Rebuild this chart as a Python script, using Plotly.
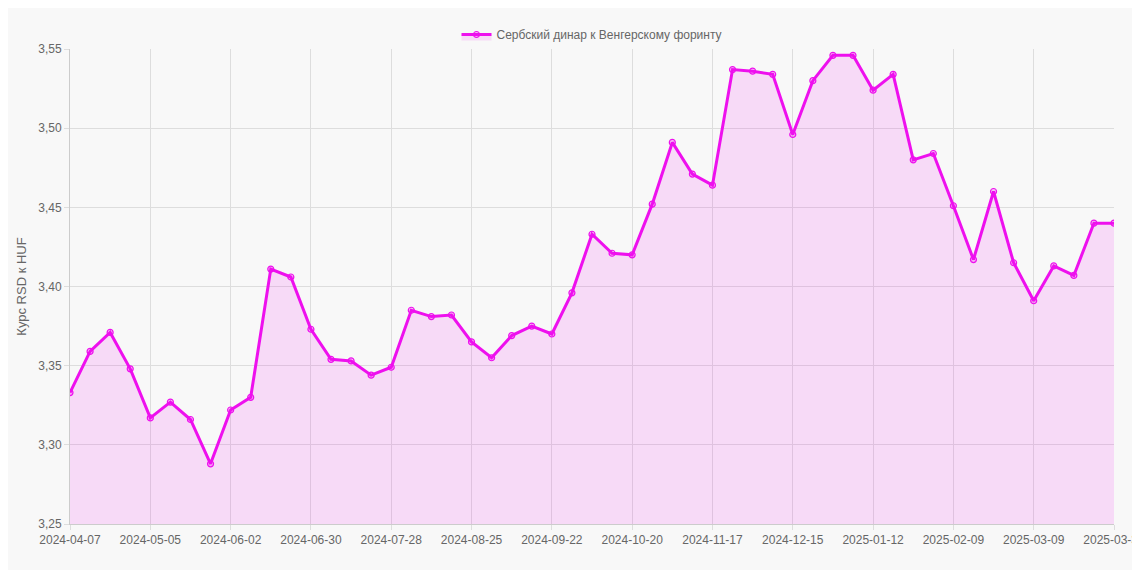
import plotly.graph_objects as go

dates = ["2024-04-07","2024-04-14","2024-04-21","2024-04-28","2024-05-05","2024-05-12","2024-05-19","2024-05-26",
"2024-06-02","2024-06-09","2024-06-16","2024-06-23","2024-06-30","2024-07-07","2024-07-14","2024-07-21",
"2024-07-28","2024-08-04","2024-08-11","2024-08-18","2024-08-25","2024-09-01","2024-09-08","2024-09-15",
"2024-09-22","2024-09-29","2024-10-06","2024-10-13","2024-10-20","2024-10-27","2024-11-03","2024-11-10",
"2024-11-17","2024-11-24","2024-12-01","2024-12-08","2024-12-15","2024-12-22","2024-12-29","2025-01-05",
"2025-01-12","2025-01-19","2025-01-26","2025-02-02","2025-02-09","2025-02-16","2025-02-23","2025-03-02",
"2025-03-09","2025-03-16","2025-03-23","2025-03-30","2025-03-31"]
values = [3.333,3.359,3.371,3.348,3.317,3.327,3.316,3.288,3.322,3.330,3.411,3.406,3.373,3.354,3.353,3.344,
3.349,3.385,3.381,3.382,3.365,3.355,3.369,3.375,3.370,3.396,3.433,3.421,3.420,3.452,3.491,3.471,3.464,
3.537,3.536,3.534,3.496,3.530,3.546,3.546,3.524,3.534,3.480,3.484,3.451,3.417,3.460,3.415,3.391,3.413,
3.407,3.440,3.440]
tick_labels = dates[::4] + [dates[-1]]

fig = go.Figure(go.Scatter(
    x=dates, y=values, mode="lines+markers", name="Сербский динар к Венгерскому форинту",
    line=dict(color="#ee10ee", width=3),
    marker=dict(size=6, color="rgba(238,16,238,0.25)", line=dict(color="#ee10ee", width=1.2)),
    fill="tozeroy", fillcolor="rgba(238,16,238,0.13)"))
fig.update_layout(
    width=1140, height=570, paper_bgcolor="#f8f8f8", plot_bgcolor="#f8f8f8",
    margin=dict(l=62, r=34, t=32, b=54),
    font=dict(family="Liberation Sans, Arial", size=12, color="#666"),
    showlegend=True,
    legend=dict(orientation="h", x=0.5, xanchor="center", y=1.0, yanchor="bottom", font=dict(size=12)),
    xaxis=dict(type="category", tickmode="array", tickvals=tick_labels, ticktext=tick_labels,
               showgrid=True, gridcolor="#ddd", linecolor="#ccc", ticks="outside", tickcolor="#ddd",
               tickangle=0, range=[0, len(dates)-1], automargin=False),
    yaxis=dict(range=[3.25, 3.55], dtick=0.05, tickformat=".2f",
               showgrid=True, gridcolor="#ddd", linecolor="#ccc", ticks="outside", tickcolor="#ddd",
               title=dict(text="Курс RSD к HUF", font=dict(size=13), standoff=8), zeroline=False,
               automargin=False),
    separators=", ")
fig.write_html("out.html")
